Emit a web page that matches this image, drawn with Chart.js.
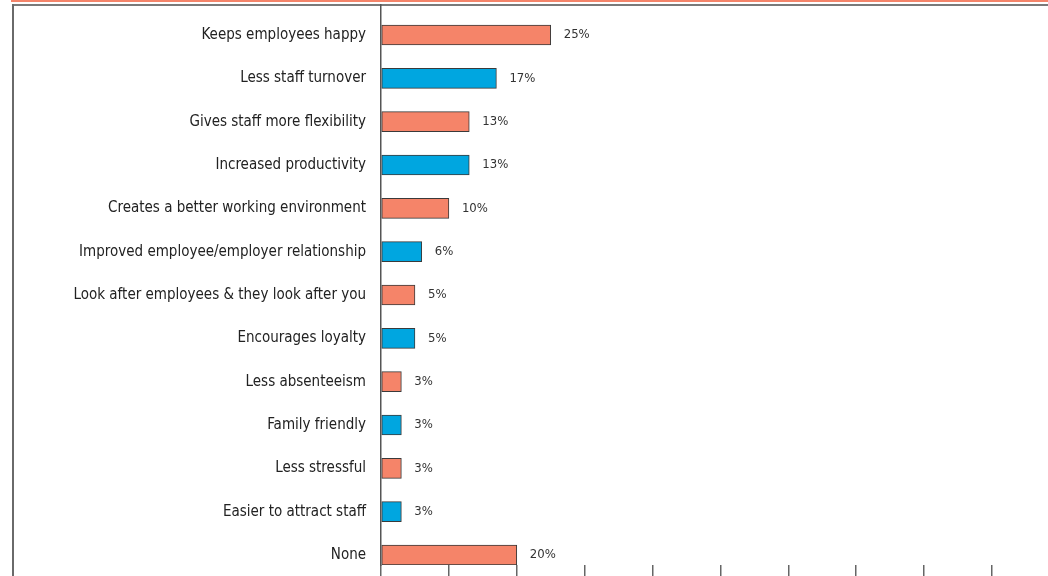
<!DOCTYPE html>
<html>
<head>
<meta charset="utf-8">
<script src="https://cdn.jsdelivr.net/npm/chart.js@4/dist/chart.umd.min.js"></script>
<style>
  html, body { margin: 0; padding: 0; background: #fff; }
  #wrap { position: relative; width: 1048px; height: 576px; overflow: hidden; }
  #topRule { position: absolute; left: 11px; right: 0; top: 0; height: 2px; background: #f4846a; }
  #frameTop { position: absolute; left: 12px; right: 0; top: 4px; height: 2px; background: #7a7a7a; }
  #frameLeft { position: absolute; left: 12px; top: 4px; bottom: 0; width: 2px; background: #6a6a6a; }
  canvas { position: absolute; left: 0; top: 0; }
</style>
</head>
<body>
<div id="wrap">
  <div id="topRule"></div>
  <div id="frameTop"></div>
  <div id="frameLeft"></div>
  <canvas id="chart" width="1048" height="576"></canvas>
</div>
<script>
// Reasons given for offering flexible working (% of respondents)
const categories = [
  'Keeps employees happy',
  'Less staff turnover',
  'Gives staff more flexibility',
  'Increased productivity',
  'Creates a better working environment',
  'Improved employee/employer relationship',
  'Look after employees & they look after you',
  'Encourages loyalty',
  'Less absenteeism',
  'Family friendly',
  'Less stressful',
  'Easier to attract staff',
  'None'
];
const percentages = [25, 17, 13, 13, 10, 6, 5, 5, 3, 3, 3, 3, 20];
const xTickValues = [0, 10, 20, 30, 40, 50, 60, 70, 80, 90];

const ORANGE = '#f58469';
const BLUE = '#00a6e0';
const FONT_FAMILY = '"DejaVu Sans Condensed", "Liberation Sans Narrow", sans-serif';

// Row band: a little more room above the first bar than below the last
const ROW_MIN = -0.692;
const ROW_MAX = 12.231;

const points = percentages.map((v, i) => ({ x: v, y: i }));
const barColors = categories.map((_, i) => (i % 2 === 0 ? ORANGE : BLUE));

// Writes the percentage just past the end of each bar
const valueLabels = {
  id: 'valueLabels',
  afterDatasetsDraw(chart) {
    const ctx = chart.ctx;
    const meta = chart.getDatasetMeta(0);
    ctx.save();
    ctx.font = '13px ' + FONT_FAMILY;
    ctx.fillStyle = '#333';
    ctx.textAlign = 'left';
    ctx.textBaseline = 'middle';
    meta.data.forEach((bar, i) => {
      ctx.fillText(percentages[i] + '%', bar.x + 13, bar.y);
    });
    ctx.restore();
  }
};

new Chart(document.getElementById('chart'), {
  type: 'bar',
  data: {
    datasets: [{
      data: points,
      backgroundColor: barColors,
      borderColor: '#3a3a3a',
      borderWidth: 1,
      borderSkipped: false,
      barThickness: 20
    }]
  },
  options: {
    indexAxis: 'y',
    responsive: false,
    animation: false,
    events: [],
    layout: { padding: { top: 5, right: 56, left: 0, bottom: 0 } },
    plugins: {
      legend: { display: false },
      tooltip: { enabled: false }
    },
    scales: {
      x: {
        type: 'linear',
        min: 0,
        max: 90,
        offset: false,
        afterBuildTicks(scale) {
          scale.ticks = xTickValues.map(v => ({ value: v }));
        },
        afterFit(scale) {
          scale.height = 11;
          scale.paddingLeft = 0;
          scale.paddingRight = 0;
        },
        ticks: { display: false },
        border: { display: false },
        grid: {
          offset: false,
          drawOnChartArea: false,
          drawTicks: true,
          tickLength: 11,
          color: '#666',
          lineWidth: 1.5
        }
      },
      y: {
        type: 'linear',
        reverse: true,
        offset: false,
        bounds: 'data',
        min: ROW_MIN,
        max: ROW_MAX,
        afterBuildTicks(scale) {
          scale.ticks = categories.map((_, i) => ({ value: i }));
        },
        afterFit(scale) {
          scale.width = 381;
          scale.paddingTop = 0;
          scale.paddingBottom = 0;
        },
        ticks: {
          autoSkip: false,
          padding: 15,
          color: '#222',
          font: { family: FONT_FAMILY, size: 15 },
          callback: (v) => categories[v] ?? ''
        },
        grid: { offset: false, display: false, drawTicks: false },
        border: { display: true, color: '#555', width: 1.5 }
      }
    }
  },
  plugins: [valueLabels]
});
</script>
</body>
</html>
